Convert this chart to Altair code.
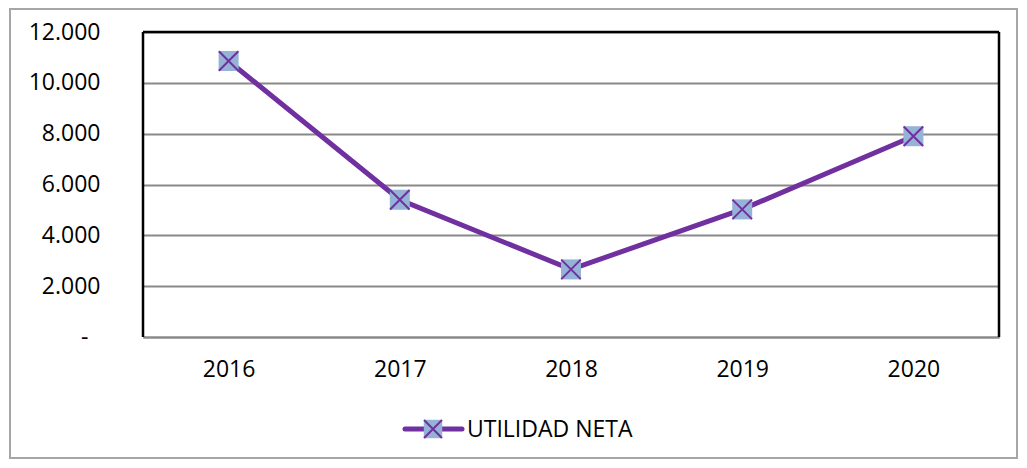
import altair as alt
import pandas as pd

years = ["2016", "2017", "2018", "2019", "2020"]
utilidad = [10860, 5400, 2660, 5020, 7900]
series_name = "UTILIDAD NETA"
y_ticks = [0, 2000, 4000, 6000, 8000, 10000, 12000]

df = pd.DataFrame({"year": years, "value": utilidad, "series": series_name})
leg = pd.DataFrame({"series": [series_name]})

FONT = "Open Sans"
FS = 23
PURPLE = "#7030A0"
BLUE = "#95B3D7"
XPATH = "M-1,-1L1,1M1,-1L-1,1"

x = alt.X("year:N", title=None,
          scale=alt.Scale(paddingInner=0, paddingOuter=0),
          axis=alt.Axis(labelAngle=0, ticks=False, domainColor="#898989",
                        domainWidth=2, labelPadding=21, labelFontSize=FS,
                        labelFont=FONT, labelColor="#000000", grid=False))
y = alt.Y("value:Q", title=None,
          scale=alt.Scale(domain=[0, 12000], nice=False),
          axis=alt.Axis(values=y_ticks, ticks=False, domain=False,
                        labelExpr="datum.value == 0 ? '-' : replace(format(datum.value, ','), ',', '.')",
                        labelPadding={"condition": {"test": "datum.value == 0", "value": 55}, "value": 43},
                        labelFontSize=FS, labelFont=FONT,
                        labelColor="#000000", gridColor="#898989", gridWidth=2,
                        gridOpacity=1))

base = alt.Chart(df).encode(x=x, y=y)

line = base.mark_line(color=PURPLE, strokeWidth=5)
squares = base.mark_point(shape="square", filled=True, size=400, color=BLUE, opacity=1)
crosses = base.mark_point(shape=XPATH, filled=False, size=380, color=PURPLE,
                          strokeWidth=2, opacity=1)

lg = alt.Chart(leg)
leg_line = lg.mark_rule(color=PURPLE, strokeWidth=5, strokeCap="round").encode(
    x=alt.value(262), x2=alt.value(319), y=alt.value(397))
leg_sq = lg.mark_point(shape="square", filled=True, size=340, color=BLUE, opacity=1).encode(
    x=alt.value(290), y=alt.value(397))
leg_x = lg.mark_point(shape=XPATH, filled=False, size=320, color=PURPLE,
                      strokeWidth=2, opacity=1).encode(x=alt.value(290), y=alt.value(397))
leg_txt = lg.mark_text(align="left", baseline="middle", fontSize=FS, font=FONT,
                       color="#000000").encode(
    x=alt.value(324), y=alt.value(398), text="series:N")

frame = lg.mark_rect(fill=None, stroke="#A6A6A6", strokeWidth=2).encode(
    x=alt.value(-133), x2=alt.value(874), y=alt.value(-23), y2=alt.value(426))

# plot-area border (black on top, left, right; bottom is the gray axis)
border = lg.mark_rule(color="#000000", strokeWidth=2.5).encode(
    x=alt.value(0), x2=alt.value(856), y=alt.value(0))
border_l = lg.mark_rule(color="#000000", strokeWidth=2.5).encode(
    x=alt.value(0), y=alt.value(0), y2=alt.value(305))
border_r = lg.mark_rule(color="#000000", strokeWidth=2.5).encode(
    x=alt.value(856), y=alt.value(0), y2=alt.value(305))

chart = alt.layer(frame, border, border_l, border_r, line, squares, crosses,
                  leg_line, leg_sq, leg_x, leg_txt).properties(
    width=856, height=305,
    padding={"left": 135, "top": 24, "right": 20, "bottom": 123},
    autosize="none",
).configure_view(stroke=None).configure(background="#ffffff")

chart.save("out.html", embed_options={"renderer": "svg", "actions": False})
